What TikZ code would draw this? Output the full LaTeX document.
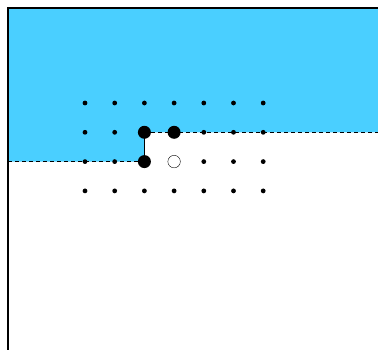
\documentclass[tikz,border=0pt]{standalone}
\usetikzlibrary{positioning}
\definecolor{sky}{RGB}{74,207,255}

\begin{document}
\begin{tikzpicture}[x=1pt, y=-1pt,
    dot/.style={circle, fill=black, inner sep=0pt, minimum size=4.8pt},
    bigdot/.style={circle, fill=black, inner sep=0pt, minimum size=13pt},
    holedot/.style={circle, draw=black, fill=white, thin, inner sep=0pt, minimum size=12.5pt},
    cutline/.style={dash pattern=on 4pt off 3pt, line width=0.8pt}]
    \useasboundingbox (0,0) rectangle (378,350);
    \coordinate (nw) at (8,8);
    \coordinate (ne) at (378,8);
    \coordinate (sw) at (8,350);
    % lattice points
    \foreach \i in {0,...,6}
      \foreach \j in {0,...,3}
        \coordinate (g\i\j) at ({85+29.7*\i},{103+29.3*\j});
    % shaded region
    \fill[sky] (nw) -- (ne) -- (g21 -| ne) -- (g21) -- (g22) -- (g22 -| nw) -- cycle;
    \draw[cutline] (g22 -| nw) -- (g22);
    \draw[line width=0.7pt] (g22) -- (g21);
    \draw[cutline] (g21) -- (g21 -| ne);
    \draw[line width=1.2pt] (sw) -- (nw) -- (ne);
    % dots
    \foreach \i in {0,...,6}
      \foreach \j in {0,...,3}
        \node[dot] (d\i\j) at (g\i\j) {};
    \node[bigdot] (a) at (g21) {};
    \node[bigdot] (b) at (g31) {};
    \node[bigdot] (c) at (g22) {};
    \node[holedot] (h) at (g32) {};
\end{tikzpicture}
\end{document}
